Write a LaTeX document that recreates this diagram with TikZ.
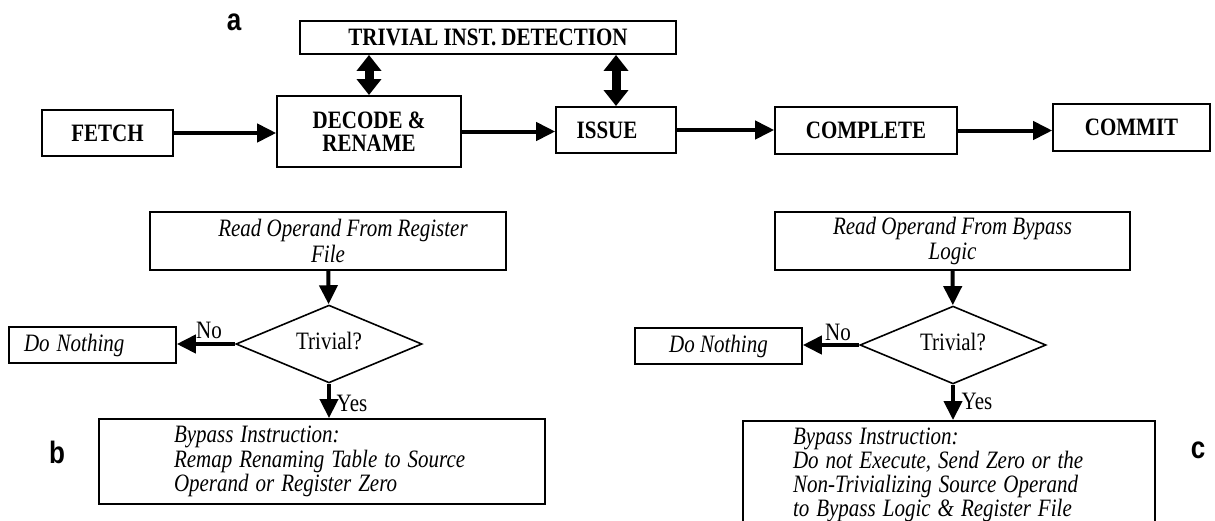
\documentclass[tikz,border=0pt]{standalone}
\usepackage{fontspec}
\setmainfont{Liberation Serif}
\setsansfont{Liberation Sans}
\usepackage{tikz}
\usetikzlibrary{arrows.meta,positioning,shapes.geometric}

\begin{document}
\begin{tikzpicture}[x=1pt,y=-1pt,
  stage/.style={draw, line width=1.6pt, inner sep=0pt, yscale=1.19, align=center, font=\fontsize{21}{19.5}\selectfont\bfseries},
  flowbox/.style={draw, line width=1.6pt, inner sep=0pt, yscale=1.19, align=center, font=\fontsize{21}{21.8}\selectfont\itshape},
  decision/.style={diamond, draw, line width=1.6pt, inner sep=0pt, yscale=1.19, shape aspect=2.84, minimum width=186pt, minimum height=65.5pt, font=\fontsize{21}{25}\selectfont},
  lbl/.style={inner sep=0pt, yscale=1.19, font=\fontsize{21}{25}\selectfont},
  panel/.style={inner sep=0pt, yscale=1.19, font=\fontsize{26}{26}\selectfont\sffamily\bfseries},
  flow/.style={-{Triangle[length=19pt,width=18pt]}, line width=4pt},
  dflow/.style={{Triangle[length=16pt,width=24pt]}-{Triangle[length=16pt,width=24pt]}, line width=9pt}]

\useasboundingbox (0,0) rectangle (1215,520);

\node[panel] (pa) at (234,22) {a};
\node[stage, minimum width=376pt, minimum height=27.7pt] (detect) at (488,37.5) {TRIVIAL INST. DETECTION};
\node[stage, minimum width=131pt, minimum height=38.7pt] (fetch) at (107.5,133) {FETCH};
\node[stage, minimum width=184pt, minimum height=59.7pt] (decode) at (369,131.5) {DECODE \&\\RENAME};
\node[stage, minimum width=120pt, minimum height=38.7pt] (issue) at (616,130) {ISSUE\hspace*{18pt}};
\node[stage, minimum width=182pt, minimum height=39.5pt] (complete) at (866,130.5) {COMPLETE};
\node[stage, minimum width=157pt, minimum height=39.5pt] (commit) at (1131.5,127.5) {COMMIT};

\draw[flow] (fetch.east) -- (fetch.east -| decode.west);
\draw[flow] (decode.east) -- (decode.east -| issue.west);
\draw[flow] (issue.east) -- (issue.east -| complete.west);
\draw[flow] (complete.east) -- (complete.east -| commit.west);
\draw[dflow] (detect.south -| decode.north) -- (decode.north);
\draw[dflow] (detect.south -| issue.north) -- (issue.north);

\node[flowbox, minimum width=356pt, minimum height=48.7pt] (readb) at (328,241) {\hspace*{30pt}Read Operand From Register\\File};
\node[decision] (trivb) at (329,344) {\raisebox{6pt}{Trivial?}};
\node[flowbox, minimum height=30.3pt, text width=137pt, inner xsep=15pt, align=left] (nothb) at (92.5,345) {Do Nothing};
\node[flowbox, minimum width=446pt, minimum height=71.4pt, text width=296pt, inner xsep=75pt, align=left, font=\fontsize{21}{20.6}\selectfont\itshape] (bypassb) at (322,461.5) {Bypass Instruction:\\Remap Renaming Table to Source\\Operand or Register Zero};
\node[lbl] (nob) at (209,330) {No};
\node[lbl] (yesb) at (352,403) {Yes};
\node[panel] (pb) at (57,452) {b};

\draw[flow] (readb) -- (trivb);
\draw[flow] (trivb.west) -- (trivb.west -| nothb.east);
\draw[flow] (trivb.south) -- (trivb.south |- bypassb.north);

\node[flowbox, minimum width=355pt, minimum height=48.7pt] (readc) at (952.5,241) {Read Operand From Bypass\\Logic};
\node[decision] (trivc) at (953,345) {\raisebox{6pt}{Trivial?}};
\node[flowbox, minimum width=167pt, minimum height=30.3pt] (nothc) at (718.5,346) {Do Nothing};
\node[flowbox, minimum width=412pt, minimum height=90.8pt, text width=312pt, inner xsep=50pt, align=left, font=\fontsize{21}{20.2}\selectfont\itshape] (bypassc) at (949,475) {Bypass Instruction:\\Do not Execute, Send Zero or the\\Non-Trivializing Source Operand\\to Bypass Logic \& Register File};
\node[lbl] (noc) at (838,332) {No};
\node[lbl] (yesc) at (977,401) {Yes};
\node[panel] (pc) at (1198,450) {c};

\draw[flow] (readc) -- (trivc);
\draw[flow] (trivc.west) -- (trivc.west -| nothc.east);
\draw[flow] (trivc.south) -- (trivc.south |- bypassc.north);
\end{tikzpicture}
\end{document}
